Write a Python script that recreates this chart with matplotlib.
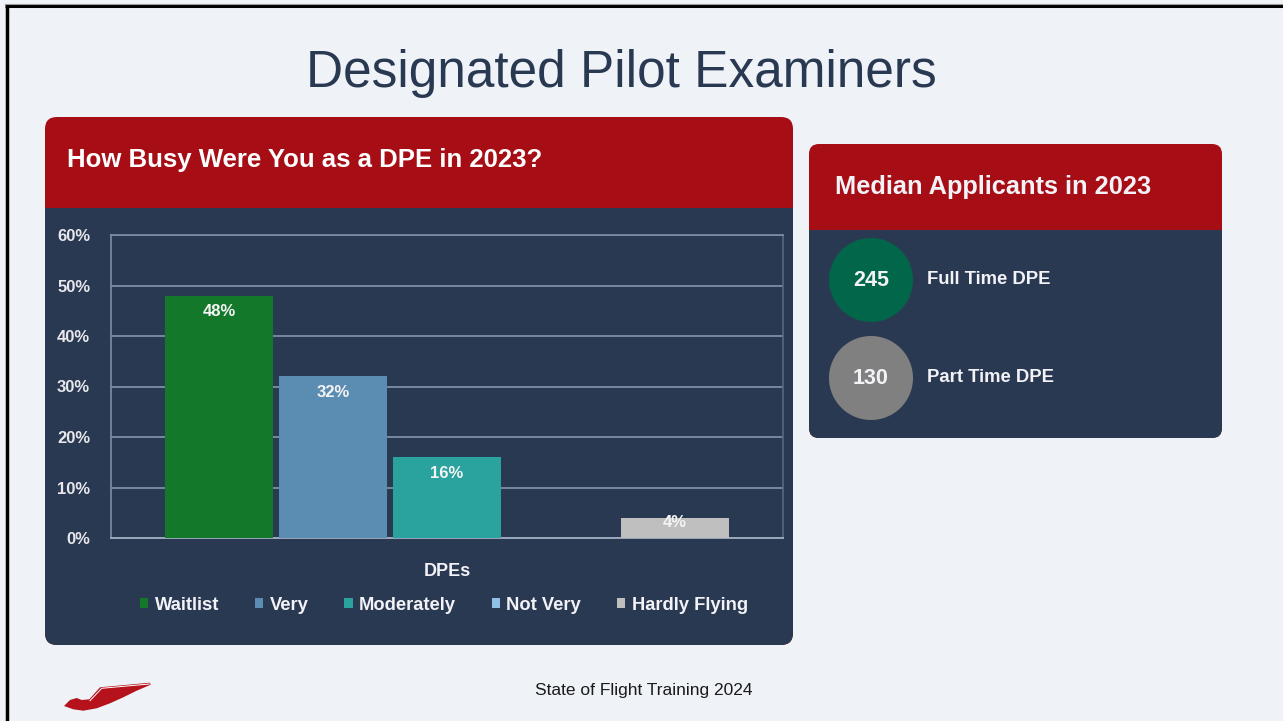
import matplotlib
matplotlib.use("Agg")
import matplotlib.pyplot as plt
from matplotlib.patches import FancyBboxPatch, Rectangle, Circle, Polygon

# data
kategorie = ["Waitlist", "Very", "Moderately", "Not Very", "Hardly Flying"]
hodnoty = [48, 32, 16, 0, 4]
farby = ["#13782A", "#5B8DB3", "#2AA39E", "#8FC3E6", "#BFBFBF"]
y_ticky = [0, 10, 20, 30, 40, 50, 60]

median_typ = ["Full Time DPE", "Part Time DPE"]
median_hodnoty = [245, 130]
median_farby = ["#02664A", "#808080"]

NAVY = "#2A3952"
RED = "#A60D14"
BG = "#EFF3F8"
GRID = "#7E8EA5"
BIELA = "#F2F2F7"

W, H = 1283, 721

plt.rcParams["font.family"] = ["Liberation Sans", "DejaVu Sans"]

fig = plt.figure(figsize=(W / 100, H / 100), dpi=100, facecolor=BG)

# pozadie v pixeloch
bg = fig.add_axes([0, 0, 1, 1])
bg.set_xlim(0, W)
bg.set_ylim(H, 0)
bg.axis("off")
bg.set_facecolor(BG)

# ramik
bg.plot([6.5, 6.5], [6, H], color="black", lw=2.5, solid_capstyle="butt")
bg.plot([5, W], [6, 6], color="black", lw=2.2, solid_capstyle="butt")
bg.plot([5, W], [4, 4], color="#9A9A9A", lw=0.8)

# nadpis
bg.text(621, 87, "Designated Pilot Examiners", fontsize=37, color="#2A3952",
        ha="center", va="baseline")

# lavy panel
bg.add_patch(FancyBboxPatch((45, 117), 748, 528, boxstyle="round,pad=0,rounding_size=12",
                            fc=RED, ec="none"))
bg.add_patch(FancyBboxPatch((45, 208), 748, 437, boxstyle="round,pad=0,rounding_size=12",
                            fc=NAVY, ec="none"))
bg.add_patch(Rectangle((45, 208), 748, 20, fc=NAVY, ec="none"))
bg.text(67, 160, "How Busy Were You as a DPE in 2023?", fontsize=18.5, fontweight="bold",
        color="white", ha="left", va="center")

# pravy panel
bg.add_patch(FancyBboxPatch((809, 144), 413, 294, boxstyle="round,pad=0,rounding_size=10",
                            fc=RED, ec="none"))
bg.add_patch(FancyBboxPatch((809, 230), 413, 208, boxstyle="round,pad=0,rounding_size=10",
                            fc=NAVY, ec="none"))
bg.add_patch(Rectangle((809, 230), 413, 20, fc=NAVY, ec="none"))
bg.text(835, 187, "Median Applicants in 2023", fontsize=18.3, fontweight="bold",
        color=BIELA, ha="left", va="center")

for i, (typ, hod, fa) in enumerate(zip(median_typ, median_hodnoty, median_farby)):
    cy = 280 + i * 98
    bg.add_patch(Circle((871, cy), 42, fc=fa, ec="none"))
    bg.text(871, cy, str(hod), fontsize=15.5, fontweight="bold", color=BIELA,
            ha="center", va="center")
    bg.text(927, cy, typ, fontsize=13.3, fontweight="bold", color=BIELA,
            ha="left", va="center")

# pata
bg.text(644, 691, "State of Flight Training 2024", fontsize=12.5, color="#1A1A1A",
        ha="center", va="center")
vtak = [(64, 706), (70, 700), (76.7, 698), (81.7, 700), (89.3, 699.3), (100, 687.3),
        (150, 682.7), (150.7, 684.7), (136.7, 690.7), (123.3, 697.3), (110, 703.3),
        (96.7, 708.3), (83.3, 710.7), (73.3, 709.3)]
bg.add_patch(Polygon(vtak, closed=True, fc="#B5121B", ec="none"))
bg.plot([90, 101.7, 149.3], [700.7, 688.3, 684], color="white", lw=0.7)

# stlpcovy graf
x0, x1 = 111, 783
y0, y1 = 538, 235
ax = fig.add_axes([x0 / W, (H - y0) / H, (x1 - x0) / W, (y0 - y1) / H])
ax.set_facecolor("none")
ax.set_xlim(-0.947, 4.947)
ax.set_ylim(0, 60)

for i, (kat, hod, fa) in enumerate(zip(kategorie, hodnoty, farby)):
    ax.bar(i, hod, width=0.95, color=fa, label=kat, zorder=3)
    if hod > 0:
        ty = max(hod - 3.2, hod * 0.75)
        ax.text(i, ty, f"{hod}%", ha="center", va="center", color="#F4F4F4",
                fontsize=12, fontweight="bold", zorder=4)

ax.set_yticks(y_ticky)
ax.set_yticklabels([f"{t}%" for t in y_ticky])
ax.yaxis.grid(True, color=GRID, lw=1.3, zorder=0)
ax.set_axisbelow(True)
ax.set_xticks([])
ax.tick_params(axis="y", length=0, pad=15, labelsize=12, labelcolor="#E8E8EC")
for lbl in ax.get_yticklabels():
    lbl.set_fontweight("bold")
for s in ["left", "top", "right"]:
    ax.spines[s].set_color(GRID)
    ax.spines[s].set_linewidth(1.2)
ax.spines["right"].set_color("#56677F")
ax.spines["bottom"].set_color("#9AA8BA")
ax.spines["bottom"].set_linewidth(1.4)

ax.set_xlabel("DPEs", fontsize=13, fontweight="bold", color=BIELA, labelpad=18)

leg = ax.legend(loc="upper center", bbox_to_anchor=(0.4955, -0.14), ncol=5, frameon=False,
                handlelength=0.45, handleheight=0.45, handletextpad=0.35, columnspacing=1.95,
                prop={"size": 13.2, "weight": "bold"})
for t in leg.get_texts():
    t.set_color(BIELA)

fig.savefig("out.png", dpi=100, facecolor=BG)
